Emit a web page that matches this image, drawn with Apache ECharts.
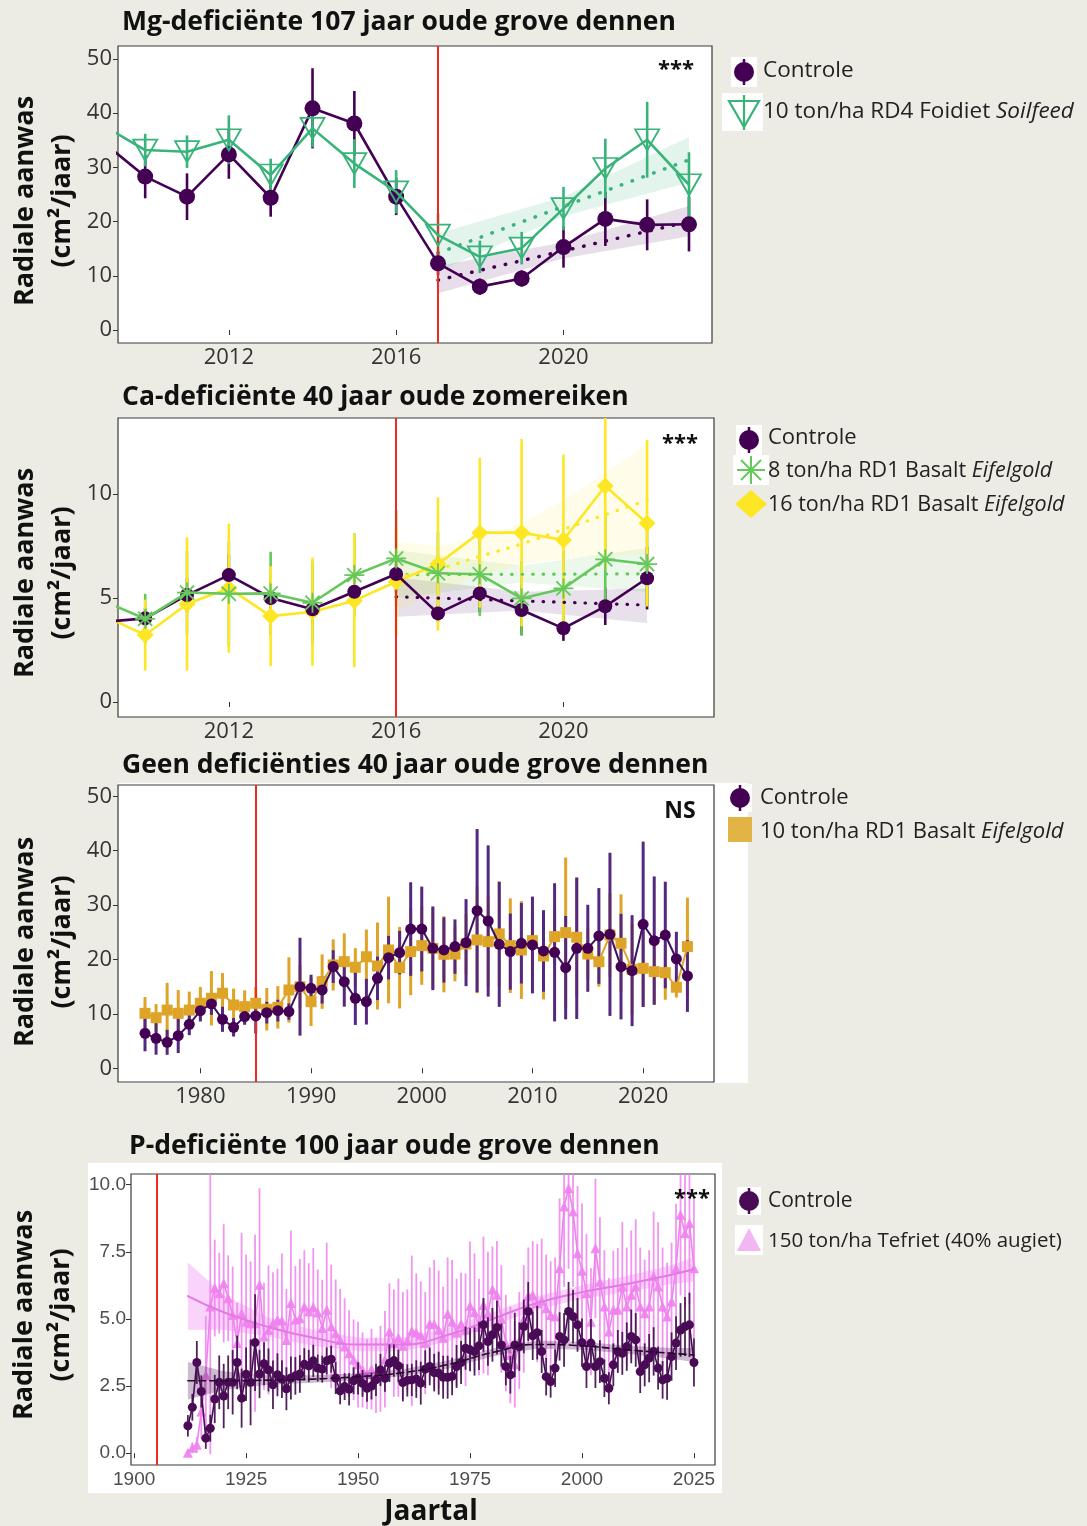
<!DOCTYPE html>
<html><head><meta charset="utf-8">
<script src="https://cdn.jsdelivr.net/npm/echarts@6/dist/echarts.min.js"></script>
<style>html,body{margin:0;padding:0;background:#ecece4;}#c{width:1087px;height:1526px;}</style>
</head><body><div id="c"></div>
<script>
function range(a,b){const r=[];for(let v=a;v<=b;v++)r.push(v);return r;}

// ---------- Panel 1: Mg-deficiënte 107 jaar oude grove dennen ----------
const p1Years = range(2009, 2023);
const p1Control = [34.6, 28.3, 24.6, 32.4, 24.4, 40.9, 38.1, 24.6, 12.3, 8.0, 9.5, 15.3, 20.5, 19.4, 19.5];
const p1ControlErr = [4, 4, 4.3, 4.5, 3.5, 7.4, 6, 3.4, 2.2, 1.5, 1.5, 3.8, 5, 4.7, 5];
const p1Treat = [37.7, 33.2, 32.9, 35.1, 28.6, 37.2, 30.7, 25.5, 17.5, 13.5, 15.1, 22.4, 29.8, 35.1, 26.8];
const p1TreatErr = [3, 3, 3, 4.5, 3, 3.5, 4.5, 4, 4, 3, 3, 4, 5.5, 7, 6];
const p1TrendYears = [2017, 2020, 2023];
const p1ControlTrend = [9.2, 14.6, 20.0];
const p1ControlLo = [6.8, 13.2, 17.3];
const p1ControlHi = [11.8, 16.2, 22.9];
const p1TreatTrend = [14.2, 22.8, 31.4];
const p1TreatLo = [10.8, 21.0, 27.2];
const p1TreatHi = [17.8, 24.6, 35.6];
const p1StartYear = 2017;
const p1XTicks = [2012, 2016, 2020];
const p1YTicks = [0, 10, 20, 30, 40, 50];

// ---------- Panel 2: Ca-deficiënte 40 jaar oude zomereiken ----------
const p2Years = range(2009, 2022);
const p2Control = [3.85, 4.02, 5.14, 6.1, 5.0, 4.46, 5.3, 6.15, 4.26, 5.22, 4.42, 3.54, 4.6, 5.95];
const p2ControlErr = [0.6, 0.5, 0.8, 1.0, 0.8, 0.7, 0.8, 0.9, 0.4, 0.9, 1.2, 0.6, 0.9, 1.5];
const p2Low = [4.85, 4.0, 5.26, 5.2, 5.22, 4.77, 6.1, 6.9, 6.19, 6.14, 4.98, 5.46, 6.86, 6.63];
const p2LowErr = [1.5, 1.2, 2.0, 2.5, 2.0, 2.0, 2.0, 2.3, 2.0, 2.0, 1.8, 1.8, 2.2, 2.0];
const p2High = [4.16, 3.22, 4.71, 5.47, 4.13, 4.34, 4.87, 5.78, 6.63, 8.14, 8.14, 7.79, 10.38, 8.59];
const p2HighErr = [1.5, 1.7, 3.2, 3.1, 2.4, 2.6, 3.2, 2.6, 3.2, 3.6, 4.5, 4.1, 4.0, 4.0];
const p2TrendYears = [2016, 2019, 2022];
const p2ControlTrend = [5.06, 4.86, 4.66];
const p2ControlLo = [4.1, 4.4, 3.8];
const p2ControlHi = [6.0, 5.3, 5.45];
const p2LowTrend = [6.12, 6.14, 6.16];
const p2LowLo = [5.0, 5.75, 5.3];
const p2LowHi = [7.3, 6.55, 7.4];
const p2HighTrendYears = [2016, 2017, 2018, 2019, 2020, 2021, 2022];
const p2HighTrend = [6.0, 6.4, 7.0, 7.6, 8.3, 9.0, 9.7];
const p2HighLo = [4.3, 5.3, 6.1, 6.6, 6.9, 7.0, 7.1];
const p2HighHi = [7.7, 7.5, 7.9, 8.6, 9.7, 11.0, 12.4];
const p2StartYear = 2016;
const p2XTicks = [2012, 2016, 2020];
const p2YTicks = [0, 5, 10];

// ---------- Panel 3: Geen deficiënties 40 jaar oude grove dennen ----------
const p3Years = range(1975, 2024);
const p3Control = [6.43, 5.5, 4.78, 6.0, 8.09, 10.6, 11.83, 9.0, 7.54, 9.5,
  9.62, 10.23, 10.6, 10.42, 15.0, 14.7, 14.4, 18.7, 15.93, 12.87,
  12.25, 16.54, 20.34, 21.26, 25.6, 25.6, 22.06, 21.75, 22.37, 23.1,
  28.98, 27.08, 22.8, 21.45, 22.98, 22.67, 21.57, 21.32, 18.5, 22.06,
  22.06, 24.33, 24.63, 18.69, 17.95, 26.47, 23.47, 24.5, 20.1, 16.97];
const p3ControlErr = [3.3, 3, 2.3, 3.2, 2, 2, 2, 2.3, 1.7, 1.5,
  3.2, 2, 2, 1.5, 9, 2.5, 2.5, 3, 4.6, 4.9,
  4.2, 4, 4, 4, 8.6, 7.8, 7.7, 6, 5, 8,
  15, 13.9, 11.5, 7, 7.4, 8.9, 7.5, 12.7, 9.5, 13,
  8, 8.8, 15, 9.7, 10.2, 15.2, 11.8, 9.8, 5, 6.6];
const p3Treat = [10.1, 9.3, 10.7, 10.1, 10.7, 11.95, 12.87, 13.8, 11.64, 11.33,
  11.95, 10.85, 11.2, 14.4, 15.0, 12.25, 15.93, 19.0, 19.6, 18.57,
  20.5, 18.8, 21.75, 18.5, 21.45, 22.55, 22.06, 20.96, 21.0, 22.85,
  23.6, 23.28, 24.7, 22.55, 21.75, 23.47, 20.65, 24.2, 24.94, 24.08,
  21.0, 19.6, 24.5, 22.98, 18.2, 18.38, 17.77, 17.59, 14.9, 22.37];
const p3TreatErr = [3, 2.5, 5, 4.3, 3.4, 3, 5, 3.7, 3, 3,
  3, 3.9, 3.9, 6, 4, 4.5, 5, 4.7, 5.2, 3.5,
  5, 8, 9.8, 7.5, 8, 7.2, 7.4, 7, 5, 5.5,
  9.8, 8.3, 9.6, 8.7, 9, 6, 8, 5, 13.8, 11,
  4.7, 4.6, 7.7, 9, 8.3, 7, 6, 5, 1.9, 9];
const p3StartYear = 1985;
const p3XTicks = [1980, 1990, 2000, 2010, 2020];
const p3YTicks = [0, 10, 20, 30, 40, 50];

// ---------- Panel 4: P-deficiënte 100 jaar oude grove dennen ----------
const p4Years = range(1912, 2025);
const p4Control = [1.02, 1.71, 3.38, 2.3, 0.56, 0.93, 2.02, 2.64, 2.13, 2.64,
  2.64, 3.38, 2.05, 2.94, 2.64, 4.12, 2.95, 3.33, 3.1, 2.55,
  2.92, 2.76, 2.4, 2.8, 2.88, 2.95, 3.31, 3.25, 3.44, 3.17,
  3.13, 3.44, 3.5, 2.8, 2.32, 2.48, 2.38, 2.7, 2.79, 2.6,
  2.42, 2.5, 2.73, 3.1, 2.79, 3.35, 3.45, 3.25, 2.63, 2.71,
  2.73, 2.76, 2.61, 3.13, 3.23, 3.0, 2.98, 2.83, 2.83, 2.86,
  3.23, 3.38, 3.91, 3.85, 3.79, 4.0, 4.78, 4.16, 4.41, 4.68,
  4.03, 3.23, 2.92, 4.03, 3.97, 4.72, 5.28, 4.37, 4.49, 3.79,
  2.85, 2.67, 3.17, 4.35, 4.22, 5.28, 5.09, 4.78, 4.12, 3.23,
  4.1, 3.23, 3.41, 2.79, 2.42, 3.29, 3.79, 3.72, 3.97, 4.35,
  4.22, 3.04, 3.29, 3.54, 3.79, 3.17, 2.73, 2.79, 3.6, 4.1,
  4.59, 4.72, 4.78, 3.38];
const p4ControlErr = [0.4, 0.5, 0.8, 0.6, 0.4, 0.5, 0.9, 1.0, 1.2, 1.0,
  1.2, 1.0, 1.1, 1.0, 1.6, 1.8, 0.9, 0.8, 0.8, 0.9,
  0.8, 0.7, 0.8, 0.8, 0.7, 0.7, 0.6, 0.6, 0.6, 0.5,
  0.5, 0.5, 0.5, 0.6, 0.5, 0.5, 0.6, 0.5, 0.6, 0.5,
  0.5, 0.5, 0.6, 0.6, 0.5, 0.7, 0.6, 0.6, 0.7, 0.6,
  0.6, 0.7, 0.8, 0.7, 0.7, 0.7, 0.8, 0.8, 0.8, 0.7,
  0.8, 0.8, 0.8, 0.8, 0.9, 0.9, 1.0, 0.9, 1.0, 1.0,
  0.8, 0.7, 0.7, 1.2, 0.9, 1.0, 1.1, 0.9, 1.0, 0.8,
  0.7, 0.6, 0.7, 0.9, 1.0, 1.1, 1.0, 1.0, 0.9, 0.8,
  0.9, 0.8, 0.8, 0.7, 0.6, 0.8, 0.8, 0.8, 0.9, 1.0,
  1.0, 0.8, 0.8, 0.9, 0.9, 0.8, 0.7, 0.8, 0.9, 1.0,
  1.0, 1.1, 1.2, 0.9];
const p4Treat = [0.02, 0.2, 0.31, 1.55, 2.9, 5.46, 6.15, 5.96, 6.33, 5.77,
  5.15, 4.1, 5.21, 4.9, 4.84, 4.84, 6.27, 4.35, 4.59, 4.84,
  4.97, 4.94, 4.22, 5.59, 4.97, 5.03, 5.46, 5.28, 5.44, 5.24,
  4.66, 5.34, 4.72, 4.47, 4.22, 3.97, 3.72, 3.48, 3.3, 3.1,
  2.95, 3.13, 2.9, 3.14, 3.5, 4.53, 4.1, 4.3, 4.0, 4.2,
  4.56, 4.5, 4.4, 4.1, 4.82, 4.8, 4.6, 4.3, 5.19, 4.9,
  4.5, 4.82, 4.6, 5.49, 5.25, 4.7, 5.52, 5.2, 6.1, 5.9,
  5.0, 4.1, 3.66, 3.3, 4.2, 5.0, 5.86, 5.9, 5.59, 5.69,
  5.4, 5.15, 5.09, 6.89, 9.19, 9.87, 9.0, 7.45, 6.8, 5.96,
  4.9, 7.63, 6.39, 5.46, 4.53, 5.34, 5.34, 6.21, 5.46, 5.9,
  6.21, 5.46, 5.21, 5.46, 6.6, 6.21, 5.46, 5.09, 5.65, 6.89,
  8.88, 8.19, 8.57, 6.89];
const p4TreatErr = [0.1, 0.2, 0.3, 1.0, 2.2, 5.5, 1.8, 1.5, 2.2, 1.6,
  1.8, 1.5, 3.0, 2.5, 2.3, 3.3, 3.6, 2.0, 2.4, 1.9,
  1.9, 2.5, 1.9, 2.7, 2.0, 2.2, 2.1, 1.8, 2.2, 1.6,
  1.8, 2.5, 2.3, 2.0, 1.9, 1.8, 1.6, 1.5, 1.6, 1.4,
  1.3, 1.5, 1.4, 1.6, 1.8, 1.8, 2.0, 2.2, 2.0, 1.9,
  2.8, 2.2, 2.0, 1.9, 2.1, 2.4, 2.2, 1.9, 2.1, 2.3,
  2.0, 1.9, 2.1, 2.4, 2.2, 1.8, 2.55, 2.3, 1.6, 2.0,
  2.0, 1.8, 1.8, 1.6, 1.8, 2.0, 1.8, 2.0, 2.2, 2.3,
  2.0, 2.0, 2.2, 2.6, 3.0, 3.0, 2.8, 2.5, 2.5, 2.2,
  2.0, 2.6, 2.4, 2.1, 2.0, 2.2, 2.3, 2.4, 2.2, 2.4,
  2.5, 2.2, 2.0, 2.1, 2.4, 2.4, 2.2, 2.0, 2.2, 2.4,
  3.0, 2.8, 3.0, 2.6];
const p4TrendYears = [1912, 1920, 1930, 1940, 1950, 1960, 1970, 1980, 1990, 2000, 2010, 2020, 2025];
const p4ControlTrend = [2.7, 2.7, 2.72, 2.76, 2.85, 3.0, 3.3, 3.75, 4.05, 4.0, 3.85, 3.72, 3.66];
const p4ControlLo = [2.0, 2.35, 2.55, 2.62, 2.72, 2.87, 3.15, 3.6, 3.9, 3.85, 3.7, 3.52, 3.4];
const p4ControlHi = [3.4, 3.05, 2.9, 2.9, 2.98, 3.13, 3.45, 3.9, 4.2, 4.15, 4.0, 3.92, 3.92];
const p4TreatTrend = [5.85, 5.25, 4.7, 4.3, 4.05, 4.05, 4.4, 5.0, 5.6, 6.0, 6.3, 6.65, 6.85];
const p4TreatLo = [4.6, 4.6, 4.35, 4.0, 3.8, 3.8, 4.15, 4.75, 5.35, 5.75, 6.0, 6.3, 6.4];
const p4TreatHi = [7.1, 5.9, 5.05, 4.6, 4.3, 4.3, 4.65, 5.25, 5.85, 6.25, 6.6, 7.0, 7.3];
const p4StartYear = 1905;
const p4XTicks = [1900, 1925, 1950, 1975, 2000, 2025];
const p4YTicks = [0, 2.5, 5, 7.5, 10];

// ---------- styling ----------
const FONT = '"Open Sans","Noto Sans",sans-serif';
const ARIAL = '"Liberation Sans",Arial,sans-serif';
const PURPLE = '#440154';
const GREEN1 = '#38b47a';
const GREEN2 = '#64c95a';
const YELLOW = '#fde725';
const GOLD = '#dea427';
const PINK = '#ee82ee';
const DARKP = '#4a0b56';
const RED = '#ee2a24';
const TXT = '#222';

const AX = [
  {x:[2009.35, 2023.55], y:[-2.4, 52.4]},
  {x:[2009.35, 2023.6], y:[-0.72, 13.65]},
  {x:[1972.56, 2026.4], y:[-2.52, 52.08]},
  {x:[1899.3, 2029.7], y:[-0.44, 10.4]}
];

function errSeries(ai, xs, ys, es, color, width, opacity, z) {
  const yMin = AX[ai].y[0], yMax = AX[ai].y[1];
  return {type:'custom', xAxisIndex:ai, yAxisIndex:ai, z:z, silent:true, animation:false,
    data: xs.map((x,i)=>[x, ys[i]-es[i], ys[i]+es[i]]),
    encode:{x:0, y:[1,2]},
    renderItem: function(params, api){
      const x = api.value(0);
      const lo = Math.max(yMin, api.value(1)), hi = Math.min(yMax, api.value(2));
      const a = api.coord([x, lo]), b = api.coord([x, hi]);
      return {type:'line', shape:{x1:a[0], y1:a[1], x2:b[0], y2:b[1]},
        style:{stroke:color, lineWidth:width, opacity:opacity}};
    }};
}
function bandSeries(ai, xs, lo, hi, fill, z) {
  return {type:'custom', xAxisIndex:ai, yAxisIndex:ai, z:z, silent:true, animation:false,
    data: xs.map((x,i)=>[x, lo[i], hi[i]]),
    encode:{x:0, y:[1,2]},
    renderItem: function(params, api){
      if (params.dataIndex !== 0) return {type:'group', children:[]};
      const pts = [];
      for (let i=0;i<xs.length;i++) pts.push(api.coord([xs[i], hi[i]]));
      for (let i=xs.length-1;i>=0;i--) pts.push(api.coord([xs[i], lo[i]]));
      return {type:'polygon', shape:{points:pts}, style:{fill:fill}};
    }};
}
function lineSeries(ai, xs, ys, o) {
  return Object.assign({type:'line', xAxisIndex:ai, yAxisIndex:ai, silent:true, animation:false,
    data: xs.map((x,i)=>[x, ys[i]]), clip:true}, o);
}
function trendSeries(ai, xs, ys, color, width, type, smooth, z) {
  return {type:'line', xAxisIndex:ai, yAxisIndex:ai, silent:true, animation:false, z:z,
    data: xs.map((x,i)=>[x, ys[i]]), showSymbol:false, symbol:'none', smooth:smooth,
    lineStyle:{color:color, width:width, type:type, cap:'round'}};
}
function redLine(ai, x) {
  return {type:'line', xAxisIndex:ai, yAxisIndex:ai, data:[], silent:true, animation:false, z:1,
    markLine:{symbol:'none', silent:true, animation:false, label:{show:false},
      lineStyle:{color:RED, width:2, type:'solid'}, data:[{xAxis:x}]}};
}

const ASTER = 'path://M-0.9,-10L0.9,-10L0.9,10L-0.9,10Z M-10,-0.9L10,-0.9L10,0.9L-10,0.9Z M-6.43,-7.7L7.7,6.43L6.43,7.7L-7.7,-6.43Z M-7.7,6.43L6.43,-7.7L7.7,-6.43L-6.43,7.7Z';
const TRI_DOWN = 'path://M0,0L20,0L10,17.32Z';

function xAx(i, ticks, fs, color, font, margin) {
  return {type:'value', gridIndex:i, min:AX[i].x[0], max:AX[i].x[1],
    axisLine:{show:false}, splitLine:{show:false},
    axisTick:{show:true, length:5, customValues:ticks, lineStyle:{color:'#333'}},
    axisLabel:{customValues:ticks, fontSize:fs, color:color, fontFamily:font, margin:margin,
      formatter: v=>String(v)}};
}
function yAx(i, ticks, fs, color, font, margin, fmt) {
  return {type:'value', gridIndex:i, min:AX[i].y[0], max:AX[i].y[1],
    axisLine:{show:false}, splitLine:{show:false},
    axisTick:{show:true, length:5, customValues:ticks, lineStyle:{color:'#333'}},
    axisLabel:{customValues:ticks, fontSize:fs, color:color, fontFamily:font, margin:margin,
      formatter: fmt || (v=>String(v))}};
}

const grids = [
  {left:118, top:46, width:594, height:297},
  {left:118, top:418, width:596, height:299},
  {left:118, top:785, width:596, height:297},
  {left:131, top:1174, width:584, height:291}
].map(gr=>Object.assign({show:true, backgroundColor:'#fff', borderColor:'#3a3a3a', borderWidth:1.2, containLabel:false}, gr));

const series = [];
// Panel 1
series.push(redLine(0, p1StartYear));
series.push(bandSeries(0, p1TrendYears, p1ControlLo, p1ControlHi, 'rgba(68,1,84,0.13)', 2));
series.push(bandSeries(0, p1TrendYears, p1TreatLo, p1TreatHi, 'rgba(56,180,122,0.14)', 2));
series.push(errSeries(0, p1Years.slice(1), p1Control.slice(1), p1ControlErr.slice(1), PURPLE, 2.6, 1, 3));
series.push(errSeries(0, p1Years.slice(1), p1Treat.slice(1), p1TreatErr.slice(1), GREEN1, 2.6, 1, 3));
series.push(trendSeries(0, p1TrendYears, p1ControlTrend, PURPLE, 3.5, [0.5, 11], false, 4));
series.push(trendSeries(0, p1TrendYears, p1TreatTrend, GREEN1, 3.5, [0.5, 11], false, 4));
series.push(lineSeries(0, p1Years, p1Control, {z:5, symbol:'circle', symbolSize:16,
  itemStyle:{color:PURPLE}, lineStyle:{color:PURPLE, width:2.6}}));
series.push(lineSeries(0, p1Years, p1Treat, {z:6, symbol:TRI_DOWN, symbolSize:[24,21],
  itemStyle:{color:'rgba(0,0,0,0)', borderColor:GREEN1, borderWidth:1.8},
  lineStyle:{color:GREEN1, width:2.6}}));

// Panel 2
series.push(redLine(1, p2StartYear));
series.push(bandSeries(1, p2TrendYears, p2ControlLo, p2ControlHi, 'rgba(68,1,84,0.12)', 2));
series.push(bandSeries(1, p2TrendYears, p2LowLo, p2LowHi, 'rgba(100,201,90,0.12)', 2));
series.push(bandSeries(1, p2HighTrendYears, p2HighLo, p2HighHi, 'rgba(253,231,37,0.1)', 2));
series.push(errSeries(1, p2Years.slice(1), p2Control.slice(1), p2ControlErr.slice(1), PURPLE, 2.6, 1, 3));
series.push(errSeries(1, p2Years.slice(1), p2Low.slice(1), p2LowErr.slice(1), GREEN2, 2.6, 1, 3));
series.push(errSeries(1, p2Years.slice(1), p2High.slice(1), p2HighErr.slice(1), YELLOW, 2.6, 1, 3));
series.push(trendSeries(1, p2TrendYears, p2ControlTrend, PURPLE, 3.2, [0.5, 10], false, 4));
series.push(trendSeries(1, p2TrendYears, p2LowTrend, GREEN2, 3.2, [0.5, 10], false, 4));
series.push(trendSeries(1, p2HighTrendYears, p2HighTrend, YELLOW, 3.2, [0.5, 10], true, 4));
series.push(lineSeries(1, p2Years, p2High, {z:5, symbol:'diamond', symbolSize:[17,17],
  itemStyle:{color:YELLOW}, lineStyle:{color:YELLOW, width:2.6}}));
series.push(lineSeries(1, p2Years, p2Control, {z:6, symbol:'circle', symbolSize:14,
  itemStyle:{color:PURPLE}, lineStyle:{color:PURPLE, width:2.6}}));
series.push(lineSeries(1, p2Years, p2Low, {z:7, symbol:ASTER, symbolSize:20,
  itemStyle:{color:GREEN2}, lineStyle:{color:GREEN2, width:2.6}}));

// Panel 3
series.push(redLine(2, p3StartYear));
series.push(errSeries(2, p3Years, p3Treat, p3TreatErr, GOLD, 3, 1, 3));
series.push(errSeries(2, p3Years, p3Control, p3ControlErr, '#55287f', 3, 1, 3));
series.push(lineSeries(2, p3Years, p3Treat, {z:5, symbol:'rect', symbolSize:11,
  itemStyle:{color:GOLD}, lineStyle:{color:GOLD, width:2}}));
series.push(lineSeries(2, p3Years, p3Control, {z:6, symbol:'circle', symbolSize:11,
  itemStyle:{color:PURPLE}, lineStyle:{color:'#3d1060', width:2}}));

// Panel 4
series.push(redLine(3, p4StartYear));
series.push(bandSeries(3, p4TrendYears, p4TreatLo, p4TreatHi, 'rgba(238,130,238,0.35)', 2));
series.push(errSeries(3, p4Years, p4Treat, p4TreatErr, PINK, 1.8, 0.85, 3));
series.push(lineSeries(3, p4Years, p4Treat, {z:4, symbol:'triangle', symbolSize:10,
  itemStyle:{color:PINK, opacity:0.9}, lineStyle:{color:PINK, width:1.6}}));
series.push(trendSeries(3, p4TrendYears, p4TreatTrend, '#e27ae2', 2, 'solid', true, 5));
series.push(bandSeries(3, p4TrendYears, p4ControlLo, p4ControlHi, 'rgba(74,11,86,0.28)', 6));
series.push(errSeries(3, p4Years, p4Control, p4ControlErr, '#3e0a48', 1.8, 0.9, 7));
series.push(lineSeries(3, p4Years, p4Control, {z:8, symbol:'circle', symbolSize:9,
  itemStyle:{color:DARKP}, lineStyle:{color:DARKP, width:1.6}}));
series.push(trendSeries(3, p4TrendYears, p4ControlTrend, '#2a0630', 1.6, [7, 4], true, 9));

// ---------- graphics: titles, axis titles, legends, significance ----------
const g = [];
g.push({type:'rect', z:-10, shape:{x:118, y:783, width:630, height:300}, style:{fill:'#fff'}});
g.push({type:'rect', z:-10, shape:{x:88, y:1163, width:634, height:330}, style:{fill:'#fff'}});
function title(x, y, t){ g.push({type:'text', x:x, y:y, z:100, style:{text:t, font:'bold 26.5px '+FONT, fill:'#111', verticalAlign:'middle', align:'left'}}); }
title(122, 22, 'Mg-deficiënte 107 jaar oude grove dennen');
title(122, 397, 'Ca-deficiënte 40 jaar oude zomereiken');
title(122, 765, 'Geen deficiënties 40 jaar oude grove dennen');
title(129, 1146, 'P-deficiënte 100 jaar oude grove dennen');
function ytitle(x, y){ g.push({type:'text', x:x, y:y, z:100, rotation:Math.PI/2, style:{text:'Radiale aanwas\n(cm²/jaar)', font:'bold 27px '+FONT, fill:'#111', align:'center', verticalAlign:'middle', lineHeight:37}}); }
ytitle(44, 201); ytitle(44, 573); ytitle(44, 942); ytitle(43, 1315);
g.push({type:'text', x:431, y:1512, z:100, style:{text:'Jaartal', font:'bold 28px '+FONT, fill:'#111', align:'center', verticalAlign:'middle'}});
function sig(x, y, t, fs){ g.push({type:'text', x:x, y:y, z:100, style:{text:t, font:'bold '+fs+'px '+FONT, fill:'#111', align:'center', verticalAlign:'middle'}}); }
sig(676, 70, '***', 22); sig(680, 444, '***', 22); sig(680, 811, 'NS', 23); sig(692, 1199, '***', 22);

function ltext(x, y, t, it, fs){
  const txt = it ? '{n|'+t+'}{i|'+it+'}' : '{n|'+t+'}';
  g.push({type:'text', x:x, y:y, z:100, style:{text:txt, verticalAlign:'middle', align:'left',
    rich:{n:{fontSize:fs, fontFamily:FONT, fill:TXT, color:TXT}, i:{fontSize:fs, fontFamily:FONT, fontStyle:'italic', fill:TXT, color:TXT}}}});
}
function lcircle(cx, cy, r, col, box){
  g.push({type:'rect', z:90, shape:{x:cx-box/2, y:cy-box/2-2, width:box, height:box+4}, style:{fill:'#fff'}});
  g.push({type:'line', z:91, shape:{x1:cx, y1:cy-r-3, x2:cx, y2:cy+r+3}, style:{stroke:col, lineWidth:2.5}});
  g.push({type:'circle', z:92, shape:{cx:cx, cy:cy, r:r}, style:{fill:col}});
}
// Legend panel 1
lcircle(744, 72, 10, PURPLE, 26);
ltext(763, 71, 'Controle', null, 22.5);
g.push({type:'rect', z:90, shape:{x:722, y:93, width:41, height:38}, style:{fill:'#fff'}});
g.push({type:'line', z:91, shape:{x1:744, y1:95, x2:744, y2:130}, style:{stroke:GREEN1, lineWidth:2.2}});
g.push({type:'polygon', z:92, shape:{points:[[729,101],[759,101],[744,127]]}, style:{fill:'none', stroke:GREEN1, lineWidth:2.2}});
ltext(763, 112, '10 ton/ha RD4 Foidiet ', 'Soilfeed', 22.5);
// Legend panel 2
lcircle(749, 440, 10, PURPLE, 26);
ltext(768, 438, 'Controle', null, 22);
g.push({type:'rect', z:90, shape:{x:733, y:455, width:36, height:30}, style:{fill:'#fff'}});
[[0,-14,0,14],[-14,0,14,0],[-10,-10,10,10],[-10,10,10,-10]].forEach(s=>{
  g.push({type:'line', z:91, shape:{x1:751+s[0], y1:470+s[1], x2:751+s[2], y2:470+s[3]}, style:{stroke:GREEN2, lineWidth:2}});
});
ltext(768, 471, '8 ton/ha RD1 Basalt ', 'Eifelgold', 21.5);
g.push({type:'polygon', z:92, shape:{points:[[751,490],[767,504],[751,518],[735,504]]}, style:{fill:YELLOW}});
ltext(768, 505, '16 ton/ha RD1 Basalt ', 'Eifelgold', 21.5);
// Legend panel 3
lcircle(740, 798, 10, PURPLE, 24);
ltext(760, 798, 'Controle', null, 22);
g.push({type:'rect', z:92, shape:{x:728, y:817, width:24, height:25}, style:{fill:'#e2b446'}});
ltext(760, 832, '10 ton/ha RD1 Basalt ', 'Eifelgold', 22);
// Legend panel 4
lcircle(749, 1201, 10, DARKP, 24);
ltext(768, 1201, 'Controle', null, 21);
g.push({type:'rect', z:90, shape:{x:735, y:1225, width:28, height:30}, style:{fill:'#fff'}});
g.push({type:'polygon', z:92, shape:{points:[[749,1228],[761,1251],[737,1251]]}, style:{fill:'#f2b6f2'}});
ltext(768, 1241, '150 ton/ha Tefriet (40% augiet)', null, 20.5);

const option = {
  animation:false,
  backgroundColor:'#ecece4',
  grid: grids,
  xAxis: [
    xAx(0, p1XTicks, 22, '#333', FONT, 4),
    xAx(1, p2XTicks, 22, '#333', FONT, 4),
    xAx(2, p3XTicks, 22, '#333', FONT, 4),
    xAx(3, p4XTicks, 19, '#4d4d4d', ARIAL, 5)
  ],
  yAxis: [
    yAx(0, p1YTicks, 22, '#333', FONT, 6),
    yAx(1, p2YTicks, 22, '#333', FONT, 6),
    yAx(2, p3YTicks, 22, '#333', FONT, 6),
    yAx(3, p4YTicks, 19, '#4d4d4d', ARIAL, 5, v=>v.toFixed(1))
  ],
  series: series,
  graphic: g
};
const chart = echarts.init(document.getElementById('c'), null, {renderer:'canvas'});
chart.setOption(option);
</script></body></html>
